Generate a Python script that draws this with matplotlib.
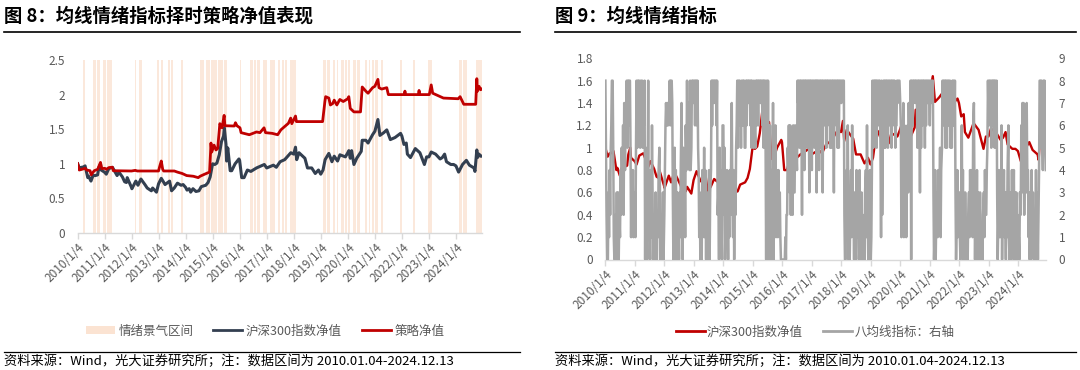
import matplotlib
matplotlib.use('Agg')
import matplotlib.pyplot as plt
import pandas as pd
from matplotlib.patches import Patch
from matplotlib.lines import Line2D
from matplotlib.ticker import FuncFormatter, MultipleLocator

plt.rcParams['font.family'] = ['Noto Sans CJK SC', 'DejaVu Sans']

# ---------------- data ----------------
hs300_dates = [
    '2010-01-04', '2010-02-01', '2010-02-25', '2010-03-15', '2010-04-14', '2010-05-20', '2010-06-01',
    '2010-07-02', '2010-07-30', '2010-08-31', '2010-09-30', '2010-10-15', '2010-11-08', '2010-11-17',
    '2010-12-31',
    '2011-01-25', '2011-02-28', '2011-04-18', '2011-06-20', '2011-07-15', '2011-08-31', '2011-09-30',
    '2011-10-24', '2011-11-04', '2011-12-31',
    '2012-01-06', '2012-02-28', '2012-03-28', '2012-05-07', '2012-06-30', '2012-07-31', '2012-09-25',
    '2012-10-12', '2012-12-03', '2012-12-31',
    '2013-02-06', '2013-03-29', '2013-05-29', '2013-06-25', '2013-07-31', '2013-09-12', '2013-10-31',
    '2013-11-28', '2013-12-31',
    '2014-01-20', '2014-02-18', '2014-03-10', '2014-04-10', '2014-05-20', '2014-06-30', '2014-07-31',
    '2014-09-30', '2014-10-31', '2014-11-28', '2014-12-31',
    '2015-01-30', '2015-02-27', '2015-03-31', '2015-04-30', '2015-05-28', '2015-06-08', '2015-06-30',
    '2015-07-08', '2015-07-24', '2015-08-26', '2015-09-15', '2015-10-31', '2015-12-22', '2015-12-31',
    '2016-01-28', '2016-02-29', '2016-04-14', '2016-05-31', '2016-08-15', '2016-11-29', '2016-12-31',
    '2017-03-31', '2017-05-10', '2017-06-30', '2017-08-31', '2017-11-22', '2017-12-31',
    '2018-01-24', '2018-02-09', '2018-03-12', '2018-05-31', '2018-07-05', '2018-08-31', '2018-10-18',
    '2018-11-30', '2018-12-31',
    '2019-01-31', '2019-02-28', '2019-04-19', '2019-05-31', '2019-07-01', '2019-08-15', '2019-09-16',
    '2019-11-29', '2019-12-31',
    '2020-01-14', '2020-02-03', '2020-02-21', '2020-03-23', '2020-04-30', '2020-06-30', '2020-07-13',
    '2020-08-31', '2020-09-30', '2020-11-30', '2020-12-31',
    '2021-02-10', '2021-03-09', '2021-04-30', '2021-06-10', '2021-07-28', '2021-09-30', '2021-12-13',
    '2021-12-31',
    '2022-01-28', '2022-02-28', '2022-03-15', '2022-04-26', '2022-06-30', '2022-08-31', '2022-10-31',
    '2022-11-30', '2022-12-31',
    '2023-01-31', '2023-03-31', '2023-05-31', '2023-06-30', '2023-07-31', '2023-08-25', '2023-10-23',
    '2023-11-30', '2023-12-31',
    '2024-02-05', '2024-03-29', '2024-05-20', '2024-06-30', '2024-08-31', '2024-09-13', '2024-10-08',
    '2024-10-17', '2024-11-07', '2024-11-29', '2024-12-13',
]
hs300_vals = [
    1.00, 0.92, 0.95, 0.95, 0.97, 0.80, 0.82, 0.75, 0.83, 0.83, 0.84, 0.94, 1.00, 0.91, 0.88,
    0.85, 0.93, 0.95, 0.83, 0.88, 0.81, 0.74, 0.73, 0.80, 0.66,
    0.64, 0.75, 0.69, 0.78, 0.70, 0.65, 0.61, 0.65, 0.59, 0.71,
    0.79, 0.70, 0.75, 0.61, 0.65, 0.72, 0.69, 0.70, 0.66,
    0.62, 0.64, 0.59, 0.64, 0.60, 0.61, 0.67, 0.69, 0.73, 0.81, 1.00,
    0.99, 1.01, 1.13, 1.32, 1.40, 1.52, 1.28, 1.04, 1.23, 0.90, 0.90, 1.00, 1.07, 1.05,
    0.80, 0.80, 0.91, 0.89, 0.94, 0.99, 0.94,
    0.98, 0.95, 1.03, 1.06, 1.16, 1.14,
    1.24, 1.06, 1.16, 1.08, 0.94, 0.94, 0.86, 0.91, 0.85,
    0.91, 1.06, 1.15, 1.03, 1.11, 1.04, 1.13, 1.10, 1.16,
    1.19, 1.08, 1.19, 0.99, 1.08, 1.18, 1.34, 1.34, 1.30, 1.42, 1.47,
    1.64, 1.41, 1.45, 1.49, 1.35, 1.38, 1.44, 1.40,
    1.28, 1.30, 1.14, 1.09, 1.22, 1.16, 0.99, 1.10, 1.10,
    1.17, 1.14, 1.07, 1.09, 1.14, 1.03, 0.99, 0.99, 0.97,
    0.88, 0.99, 1.05, 0.98, 0.94, 0.89, 1.20, 1.09, 1.14, 1.11, 1.11,
]

strat_dates = [
    '2010-01-04', '2010-01-25', '2010-03-01', '2010-04-15', '2010-05-05', '2010-06-20', '2010-07-05',
    '2010-08-15', '2010-10-01', '2010-11-08', '2010-11-25', '2011-01-05', '2011-01-25', '2011-03-01',
    '2011-04-18', '2011-04-30', '2012-01-01', '2012-02-20', '2012-03-20', '2012-12-31', '2013-01-15',
    '2013-02-06', '2013-02-25', '2013-03-10', '2013-08-01', '2013-09-12', '2013-11-15', '2014-01-15',
    '2014-04-15', '2014-06-20', '2014-07-15', '2014-09-15', '2014-11-20', '2014-12-05', '2014-12-09',
    '2014-12-20', '2015-01-20', '2015-02-15', '2015-03-10', '2015-04-08', '2015-05-08', '2015-06-05',
    '2015-06-15', '2015-10-20', '2015-11-05', '2015-11-25', '2016-01-05', '2016-01-20', '2016-05-10',
    '2016-08-15', '2016-10-01', '2016-11-25', '2016-12-15', '2017-03-15', '2017-05-28', '2017-07-10',
    '2017-09-01', '2017-10-20', '2017-11-20', '2017-12-05', '2018-01-24', '2018-02-05', '2019-01-25',
    '2019-02-25', '2019-03-07', '2019-04-19', '2019-05-10', '2019-06-10', '2019-07-01', '2019-08-05',
    '2019-09-15', '2019-10-31', '2019-12-31', '2020-01-14', '2020-02-03', '2020-03-23', '2020-06-20',
    '2020-07-13', '2020-08-31', '2020-09-30', '2020-11-30', '2020-12-31', '2021-02-10', '2021-02-25',
    '2021-04-01', '2021-06-10', '2021-07-01', '2022-02-01', '2022-02-10', '2022-02-20', '2022-08-10',
    '2022-08-20', '2022-08-30', '2023-01-05', '2023-01-31', '2023-02-20', '2023-07-15', '2024-01-31',
    '2024-02-25', '2024-04-15', '2024-09-23', '2024-10-08', '2024-10-17', '2024-11-07', '2024-11-29',
    '2024-12-13',
]
strat_vals = [
    1.00, 0.91, 0.92, 0.935, 0.91, 0.90, 0.84, 0.90, 0.92, 1.02, 0.93, 0.935, 0.92, 0.945,
    0.95, 0.90, 0.896, 0.905, 0.896, 0.896, 0.96, 1.04, 0.92, 0.896, 0.896, 0.88, 0.86, 0.83,
    0.82, 0.80, 0.82, 0.85, 0.88, 1.20, 1.30, 1.17, 1.27, 1.20, 1.22, 1.58, 1.52, 1.70,
    1.55, 1.546, 1.594, 1.55, 1.52, 1.45, 1.42, 1.46, 1.45, 1.52, 1.45, 1.44, 1.42, 1.49,
    1.54, 1.585, 1.66, 1.58, 1.69, 1.61, 1.61, 1.90, 1.97, 1.95, 1.85, 1.87, 1.92, 1.85,
    1.93, 1.90, 1.94, 1.97, 1.80, 1.75, 1.75, 2.11, 2.05, 2.02, 2.10, 2.12, 2.22, 2.10,
    2.08, 2.10, 2.00, 2.00, 2.05, 2.00, 2.00, 2.06, 2.00, 2.00, 2.14, 2.02, 1.95, 1.94,
    1.97, 1.86, 1.86, 2.23, 2.05, 2.12, 2.07, 2.08,
]

band_starts = [
    '2010-03-21', '2010-08-04', '2010-09-27', '2010-12-10', '2011-02-09', '2012-02-15', '2012-04-13',
    '2012-12-04', '2013-01-28', '2013-05-10', '2013-06-23', '2013-11-06', '2014-07-12', '2014-09-30',
    '2014-12-16', '2015-03-17', '2015-06-01', '2016-01-04', '2016-05-18', '2016-07-12', '2016-08-25',
    '2016-11-13', '2017-02-13', '2017-03-28', '2017-06-05', '2017-07-19', '2017-09-01', '2017-11-09',
    '2017-12-23', '2019-01-31', '2019-03-27', '2019-06-15', '2019-08-01', '2019-10-06', '2019-11-23',
    '2020-01-02', '2020-03-12', '2020-05-06', '2020-08-16', '2020-10-06', '2020-11-18', '2021-01-01',
    '2021-03-29', '2021-12-04', '2022-06-01', '2022-12-21', '2024-02-13', '2024-04-08', '2024-10-03',
]
band_ends = [
    '2010-04-16', '2010-09-02', '2010-10-30', '2011-01-22', '2011-04-08', '2012-03-08', '2012-05-16',
    '2013-01-10', '2013-03-05', '2013-06-01', '2013-07-19', '2013-11-28', '2014-09-05', '2014-11-24',
    '2015-02-23', '2015-05-14', '2015-07-08', '2016-01-22', '2016-06-24', '2016-08-06', '2016-10-01',
    '2016-12-31', '2017-03-21', '2017-04-19', '2017-07-04', '2017-08-21', '2017-10-04', '2017-12-16',
    '2018-02-05', '2019-03-08', '2019-05-02', '2019-07-11', '2019-08-27', '2019-11-08', '2019-12-22',
    '2020-01-28', '2020-04-18', '2020-06-11', '2020-09-14', '2020-10-31', '2020-12-17', '2021-02-10',
    '2021-04-20', '2021-12-26', '2022-06-23', '2023-02-07', '2024-03-17', '2024-05-22', '2024-12-13',
]

# eight-MA sentiment indicator, four readings per month (one string per year)
ma8_years = list(range(2010, 2025))
ma8_codes = [
    "852003142568851002130302142536274768586885142413",
    "315858687586857680520381204163021030021453021030",
    "246767677868873025041302031472052416485764845878",
    "786886854130204125140301240348688788868230514206",
    "625031420314257314032568586875868685586887886858",
    "758658688688878868588508080260401703261431423100",
    "000001022546362542633645487858682858486858783858",
    "486858783868485858386878586878585868387868585878",
    "788882002416030241632031041320401302010341620314",
    "014858687858687851826858587858687858687856687888",
    "761537162514637558086878878858683858687858687888",
    "687888301402314235145868785858686857586868302413",
    "310261402031010231423416730214032031010231422458",
    "687858687858583024131603241303146102304124031302",
    "0103264737256374413020413102140302488586486854",
]

# ---------------- figure ----------------
NAVY = '#333F50'
RED = '#C00000'
GREY = '#A5A5A5'
BAND = '#FBE3D2'
TXT = '#595959'
AXC = '#D9D9D9'

fig = plt.figure(figsize=(10.8, 3.7), dpi=100)
W, H = 1080, 370


def fx(px):
    return px / W


def fy(py):
    return 1 - py / H


hs_d = pd.to_datetime(hs300_dates)
st_d = pd.to_datetime(strat_dates)
x0 = pd.Timestamp('2010-01-04')
x1 = pd.Timestamp('2024-12-13')
tick_dates = [pd.Timestamp(f'{y}-01-04') for y in range(2010, 2025)]
tick_labels = [f'{y}/1/4' for y in range(2010, 2025)]

fmt = FuncFormatter(lambda v, p: f'{v:g}')


def style_axis(ax):
    for s in ['top', 'right', 'left']:
        ax.spines[s].set_visible(False)
    ax.spines['bottom'].set_color(AXC)
    ax.spines['bottom'].set_linewidth(1.0)
    ax.set_xlim(x0, x1)
    ax.set_xticks(tick_dates)
    ax.set_xticklabels(tick_labels, rotation=45, ha='right', rotation_mode='anchor')
    ax.tick_params(axis='x', colors=AXC, labelcolor=TXT, labelsize=8.5, length=4, width=1, pad=2)
    ax.tick_params(axis='y', length=0, labelcolor=TXT, labelsize=8.5, pad=9)
    ax.yaxis.set_major_formatter(fmt)


# ----- left panel -----
axL = fig.add_axes([fx(77.7), fy(233), fx(481.7 - 77.7), (233 - 60) / H])
for s, e in zip(band_starts, band_ends):
    axL.axvspan(pd.Timestamp(s), pd.Timestamp(e), color=BAND, alpha=0.8, lw=0, zorder=0)
axL.plot(hs_d, hs300_vals, color=NAVY, lw=2.2, zorder=3)
axL.plot(st_d, strat_vals, color=RED, lw=2.0, zorder=4)
axL.set_ylim(0, 2.5)
axL.yaxis.set_major_locator(MultipleLocator(0.5))
style_axis(axL)

handlesL = [Patch(facecolor=BAND, edgecolor='none', label='情绪景气区间'),
            Line2D([], [], color=NAVY, lw=2, label='沪深300指数净值'),
            Line2D([], [], color=RED, lw=2, label='策略净值')]
fig.legend(handles=handlesL, loc='center', bbox_to_anchor=(fx(265), fy(331)), ncol=3, frameon=False,
           fontsize=9, labelcolor=TXT, handlelength=2.3, handleheight=0.6, columnspacing=1.6,
           handletextpad=0.3)

# ----- right panel -----
axR = fig.add_axes([fx(605.4), fy(259.5), fx(1046 - 605.4), (259.5 - 58.3) / H])
axR.plot(hs_d, hs300_vals, color=RED, lw=1.7, zorder=2)
axR.set_ylim(0, 1.8)
axR.yaxis.set_major_locator(MultipleLocator(0.2))
style_axis(axR)

ma_dates = []
ma_vals = []
days = [4, 11, 18, 25]
for y, code in zip(ma8_years, ma8_codes):
    for i, ch in enumerate(code):
        ma_dates.append(pd.Timestamp(year=y, month=i // 4 + 1, day=days[i % 4]))
        ma_vals.append(int(ch))

axR2 = axR.twinx()
axR2.plot(ma_dates, ma_vals, color=GREY, lw=1.8, zorder=3)
axR2.set_ylim(0, 9)
axR2.yaxis.set_major_locator(MultipleLocator(1))
for s in ['top', 'right', 'left', 'bottom']:
    axR2.spines[s].set_visible(False)
axR2.tick_params(axis='y', length=0, labelcolor=TXT, labelsize=8.5, pad=9)
axR2.set_xlim(x0, x1)

handlesR = [Line2D([], [], color=RED, lw=2, label='沪深300指数净值'),
            Line2D([], [], color=GREY, lw=2, label='八均线指标：右轴')]
fig.legend(handles=handlesR, loc='center', bbox_to_anchor=(fx(815), fy(332)), ncol=2, frameon=False,
           fontsize=9, labelcolor=TXT, handlelength=2.3, columnspacing=1.6, handletextpad=0.2)

# ----- titles, rules and notes -----
fig.text(fx(4), fy(16), '图 8：均线情绪指标择时策略净值表现', fontsize=13.2, fontweight='bold',
         ha='left', va='center', color='#000000')
fig.text(fx(555), fy(16), '图 9：均线情绪指标', fontsize=13.2, fontweight='bold',
         ha='left', va='center', color='#000000')
for xa, xb in [(4, 520), (555, 1076)]:
    fig.add_artist(Line2D([fx(xa), fx(xb)], [fy(31.7), fy(31.7)], color='black', lw=1.2))
    fig.add_artist(Line2D([fx(xa), fx(xb)], [fy(351.5), fy(351.5)], color='black', lw=0.9))
note = '资料来源：Wind，光大证券研究所；注：数据区间为 2010.01.04-2024.12.13'
fig.text(fx(4), fy(361), note, fontsize=9.5, ha='left', va='center', color='#000000')
fig.text(fx(555), fy(361), note, fontsize=9.5, ha='left', va='center', color='#000000')

fig.savefig('out.png', dpi=100)
